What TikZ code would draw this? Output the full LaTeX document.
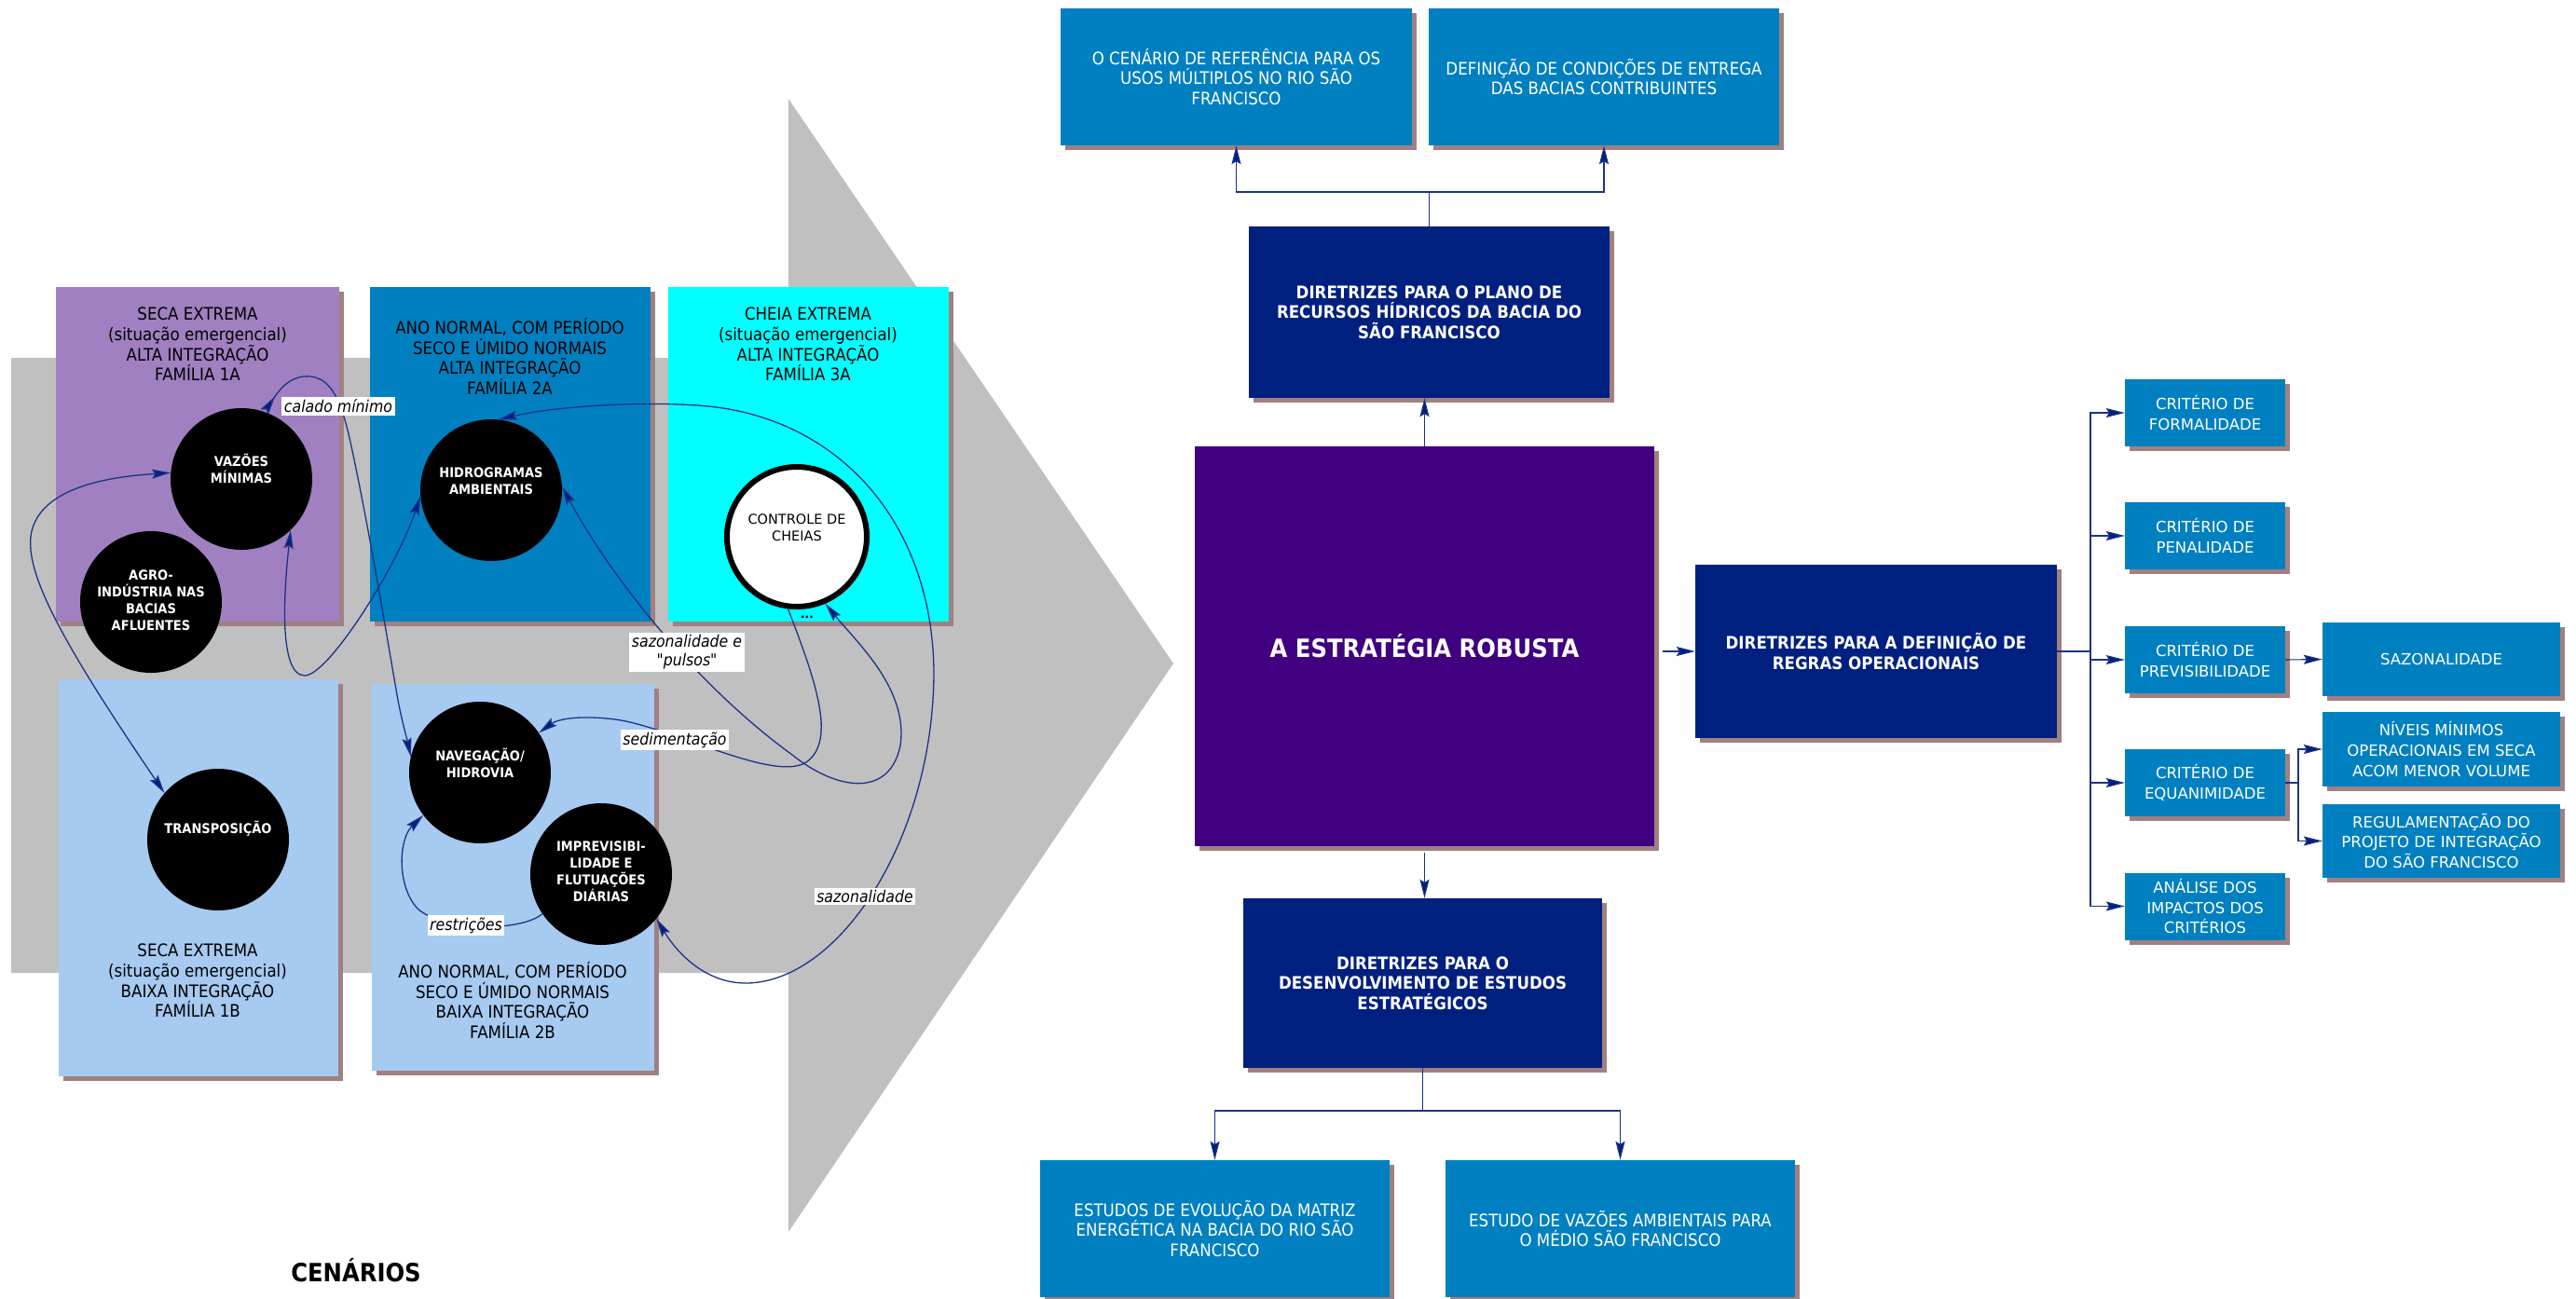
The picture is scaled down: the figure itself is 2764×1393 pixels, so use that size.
\documentclass[tikz,border=0pt]{standalone}
\usepackage{fontspec}
\setmainfont{DejaVu Sans}
\newfontfamily\cnd{DejaVu Sans}[FakeStretch=0.9]
\usetikzlibrary{arrows.meta,shadows}
\definecolor{grayarrow}{HTML}{C0C0C0}
\definecolor{violetA}{HTML}{A080C0}
\definecolor{blueB}{HTML}{0080C0}
\definecolor{cyanC}{HTML}{00FFFF}
\definecolor{lightB}{HTML}{A6CAF0}
\definecolor{shade}{HTML}{A08080}
\definecolor{navybox}{HTML}{002080}
\definecolor{stratc}{HTML}{400080}
\definecolor{linec}{HTML}{1E3288}
\definecolor{tipc}{HTML}{00207F}
\tikzset{
  shbox/.style={rectangle, inner sep=0pt, align=center,
    general shadow={shadow xshift=5pt, shadow yshift=-5pt, fill=shade, opacity=1}},
  scen/.style={shbox},
  stxt/.style={align=center, inner sep=0pt, text=black, font=\cnd\fontsize{18.5}{21.7}\selectfont},
  circ/.style={circle, fill=black, minimum size=152pt, inner sep=0pt},
  ctxt/.style={align=center, inner sep=0pt, text=white, font=\cnd\bfseries\fontsize{14.5}{18}\selectfont},
  con/.style={draw=linec, line width=1.3pt},
  rcon/.style={draw=linec, line width=1.1pt},
  >={Stealth[length=20pt,width=10pt,inset=3pt,fill=tipc]},
  lab/.style={fill=white, inner sep=2.5pt, align=center, text=black, font=\cnd\itshape\fontsize{17.5}{20}\selectfont},
  midbox/.style={shbox, fill=blueB, text=white, font=\cnd\fontsize{18.5}{21.7}\selectfont},
  darkbox/.style={shbox, fill=navybox, text=white, font=\cnd\bfseries\fontsize{18.5}{21.7}\selectfont},
  critbox/.style={shbox, fill=blueB, text=white, minimum width=172pt, minimum height=72pt, font=\fontsize{16.5}{21.7}\selectfont},
  subbox/.style={shbox, fill=blueB, text=white, minimum width=255pt, minimum height=79pt, font=\fontsize{16.5}{21.7}\selectfont}
}
\begin{document}
\begin{tikzpicture}[x=1pt,y=-1pt]
\useasboundingbox (0,0) rectangle (2764,1393);
% big gray arrow
\fill[grayarrow] (12,384) -- (846,384) -- (846,106) -- (1259,712) -- (846,1322) -- (846,1044) -- (12,1044) -- cycle;

% scenario boxes
\node[scen, fill=violetA, minimum width=304pt, minimum height=359pt] (s1a) at (212,487.5) {};
\node[scen, fill=blueB, minimum width=301pt, minimum height=359pt] (s2a) at (547.5,487.5) {};
\node[scen, fill=cyanC, minimum width=301pt, minimum height=359pt] (s3a) at (867.5,487.5) {};
\node[scen, fill=lightB, minimum width=300pt, minimum height=426pt] (s1b) at (213,942) {};
\node[scen, fill=lightB, minimum width=303pt, minimum height=415pt] (s2b) at (550.5,941.5) {};

\node[stxt] (t1a) at (212,369.5) {SECA EXTREMA\\(situação emergencial)\\ALTA INTEGRAÇÃO\\FAMÍLIA 1A};
\node[stxt] (t2a) at (547,382.5) {ANO NORMAL, COM PERÍODO\\SECO E ÚMIDO NORMAIS\\ALTA INTEGRAÇÃO\\FAMÍLIA 2A};
\node[stxt] (t3a) at (867,369.5) {CHEIA EXTREMA\\(situação emergencial)\\ALTA INTEGRAÇÃO\\FAMÍLIA 3A};
\node[stxt] (t1b) at (212,1052.5) {SECA EXTREMA\\(situação emergencial)\\BAIXA INTEGRAÇÃO\\FAMÍLIA 1B};
\node[stxt] (t2b) at (550,1073.5) {ANO NORMAL, COM PERÍODO\\SECO E ÚMIDO NORMAIS\\BAIXA INTEGRAÇÃO\\FAMÍLIA 2B};

% circles
\node[circ] (vaz) at (259,514) {};
\node[circ] (agro) at (162,646) {};
\node[circ] (hid) at (527,526) {};
\node[circle, fill=white, draw=black, line width=6pt, minimum size=150pt, inner sep=0pt] (con) at (855,576) {};
\node[circ] (tra) at (234,901) {};
\node[circ] (nav) at (515,829) {};
\node[circ] (imp) at (645,938) {};

\node[ctxt] (tvaz) at (259,503) {VAZÕES\\MÍNIMAS};
\node[ctxt] (tagro) at (162,644.5) {AGRO-\\INDÚSTRIA NAS\\BACIAS\\AFLUENTES};
\node[ctxt] (thid) at (527,516) {HIDROGRAMAS\\AMBIENTAIS};
\node[align=center, inner sep=0pt, text=black, font=\fontsize{14.5}{18}\selectfont] (tcon) at (855,566) {CONTROLE DE\\CHEIAS};
\node[ctxt] (ttra) at (234,889) {TRANSPOSIÇÃO};
\node[ctxt] (tnav) at (515,819) {NAVEGAÇÃO/\\HIDROVIA};
\node[ctxt] (timp) at (645,935.5) {IMPREVISIBI-\\LIDADE E\\FLUTUAÇÕES\\DIÁRIAS};

% curved connectors
\draw[con,<->] (vaz.175) .. controls (110,512) and (45,525) .. (34,570) .. controls (25,610) and (60,680) .. (tra.139);
\draw[con,{Stealth[length=20pt,width=10pt,inset=3pt,fill=tipc,reversed]}->] (vaz.71) .. controls (300,418) and (312,402) .. (333,404) .. controls (355,406) and (366,430) .. (375,470) .. controls (395,560) and (418,700) .. (425,740) .. controls (430,770) and (436,790) .. (nav.167);
\draw[con,<->] (vaz.314) .. controls (305,630) and (298,725) .. (327,725) .. controls (352,725) and (425,610) .. (hid.185);
\draw[con,<->] (hid.84) .. controls (600,435) and (700,430) .. (760,436) .. controls (900,450) and (1000,560) .. (1002,720) .. controls (1002,900) and (900,1055) .. (800,1055) .. controls (755,1055) and (725,1020) .. (imp.321);
\draw[con,<->] (hid.3) .. controls (650,610) and (740,730) .. (850,810) .. controls (900,850) and (955,855) .. (966,800) .. controls (975,740) and (920,690) .. (con.293);
\draw[con,->] (con.263) .. controls (875,730) and (898,795) .. (865,818) .. controls (830,840) and (720,780) .. (660,772) .. controls (620,767) and (598,772) .. (nav.34);
\draw[con,->] (imp.214) .. controls (560,1000) and (475,1000) .. (448,975) .. controls (425,950) and (428,900) .. (nav.217);

% edge labels
\node[lab] (lcal) at (363,436) {calado mínimo};
\node[lab] (lsaz1) at (737,700) {sazonalidade e\\"pulsos"};
\node[lab] (lsed) at (724,794) {sedimentação};
\node[lab] (lres) at (500,993) {restrições};
\node[lab] (lsaz2) at (928,962) {sazonalidade};
\node[inner sep=0pt, font=\bfseries\fontsize{12}{12}\selectfont] (dots) at (866,662) {...};

\node[inner sep=0pt, text=black, font=\cnd\bfseries\fontsize{27}{30}\selectfont] (cenarios) at (382,1363) {CENÁRIOS};

% right side boxes
\node[midbox, minimum width=377pt, minimum height=147pt] (cen) at (1326.5,82.5) {O CENÁRIO DE REFERÊNCIA PARA OS\\USOS MÚLTIPLOS NO RIO SÃO\\FRANCISCO};
\node[midbox, minimum width=376pt, minimum height=147pt] (def) at (1721,82.5) {DEFINIÇÃO DE CONDIÇÕES DE ENTREGA\\DAS BACIAS CONTRIBUINTES};
\node[darkbox, minimum width=387pt, minimum height=184pt] (plano) at (1533.5,335) {DIRETRIZES PARA O PLANO DE\\RECURSOS HÍDRICOS DA BACIA DO\\SÃO FRANCISCO};
\node[shbox, fill=stratc, text=white, minimum width=493pt, minimum height=429pt, font=\cnd\bfseries\fontsize{27}{30}\selectfont] (strat) at (1528.5,693.5) {A ESTRATÉGIA ROBUSTA};
\node[darkbox, minimum width=388pt, minimum height=186pt] (regras) at (2013,699) {DIRETRIZES PARA A DEFINIÇÃO DE\\REGRAS OPERACIONAIS};
\node[darkbox, minimum width=385pt, minimum height=182pt] (desenv) at (1526.5,1055) {DIRETRIZES PARA O\\DESENVOLVIMENTO DE ESTUDOS\\ESTRATÉGICOS};
\node[midbox, minimum width=375pt, minimum height=147pt] (evo) at (1303.5,1318.5) {ESTUDOS DE EVOLUÇÃO DA MATRIZ\\ENERGÉTICA NA BACIA DO RIO SÃO\\FRANCISCO};
\node[midbox, minimum width=375pt, minimum height=147pt] (vazamb) at (1738.5,1318.5) {ESTUDO DE VAZÕES AMBIENTAIS PARA\\O MÉDIO SÃO FRANCISCO};

\node[critbox] (form) at (2366,443) {CRITÉRIO DE\\FORMALIDADE};
\node[critbox] (pen) at (2366,575) {CRITÉRIO DE\\PENALIDADE};
\node[critbox] (prev) at (2366,708) {CRITÉRIO DE\\PREVISIBILIDADE};
\node[critbox] (eq) at (2366,840) {CRITÉRIO DE\\EQUANIMIDADE};
\node[critbox] (an) at (2366,972.5) {ANÁLISE DOS\\IMPACTOS DOS\\CRITÉRIOS};
\node[subbox] (saz) at (2619.5,707.5) {SAZONALIDADE};
\node[subbox, minimum height=80pt] (niv) at (2619.5,804) {NÍVEIS MÍNIMOS\\OPERACIONAIS EM SECA\\ACOM MENOR VOLUME};
\node[subbox] (reg) at (2619.5,902.5) {REGULAMENTAÇÃO DO\\PROJETO DE INTEGRAÇÃO\\DO SÃO FRANCISCO};

% right connectors
\coordinate (pj) at (1533.5,206);
\draw[rcon,->] (strat.north) -- (strat.north |- plano.south);
\draw[rcon] (plano.north) -- (pj);
\draw[rcon,->] (pj) -| (cen.south);
\draw[rcon,->] (pj) -| (def.south);
\draw[rcon,->] ([xshift=9pt]strat.east |- regras.west) -- (regras.west);
\draw[rcon,->] ([yshift=-7pt]strat.south) -- (strat.south |- desenv.north);
\coordinate (dj) at (1526.5,1192);
\draw[rcon] (desenv.south) -- (dj);
\draw[rcon,->] (dj) -| (evo.north);
\draw[rcon,->] (dj) -| (vazamb.north);
\coordinate (bus) at (2243,699);
\draw[rcon] (regras.east) -- (bus);
\foreach \n in {form,pen,prev,eq,an} \draw[rcon,->] (bus) |- (\n.west);
\draw[rcon,->] (prev.east) -- (saz.west);
\coordinate (ej) at (2466,840);
\draw[rcon] (eq.east) -- (ej);
\draw[rcon,->] (ej) |- (niv.west);
\draw[rcon,->] (ej) |- (reg.west);
\end{tikzpicture}
\end{document}
